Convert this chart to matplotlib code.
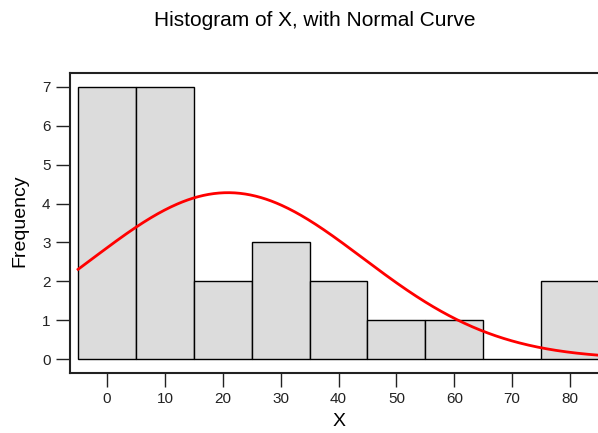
import numpy as np
import matplotlib
matplotlib.use("Agg")
import matplotlib.pyplot as plt

plt.rcParams['font.family'] = ['Liberation Sans', 'DejaVu Sans']

bin_centers = [0, 10, 20, 30, 40, 50, 60, 70, 80]
counts = [7, 7, 2, 3, 2, 1, 1, 0, 2]
bin_width = 10
x_ticks = [0, 10, 20, 30, 40, 50, 60, 70, 80]
y_ticks = [0, 1, 2, 3, 4, 5, 6, 7]
fit_mean = 20.9
fit_sd = 23.3

W, H = 598, 433
fig = plt.figure(figsize=(W / 100, H / 100), dpi=100)
xlim = (-6.4, 86.0)
ylim = (-0.36, 7.36)
px_per_x = (570 - 107) / 80.0
ax_w = (xlim[1] - xlim[0]) * px_per_x
ax = fig.add_axes([70 / W, (H - 373) / H, ax_w / W, 300 / H])

ax.bar(bin_centers, counts, width=bin_width, color='#dcdcdc',
       edgecolor='black', linewidth=1.0, zorder=2)

n = sum(counts)
x_lo = bin_centers[0] - bin_width / 2
x_hi = bin_centers[-1] + bin_width / 2
xs = np.linspace(x_lo, x_hi, 400)
ys = n * bin_width / (fit_sd * np.sqrt(2 * np.pi)) * np.exp(-0.5 * ((xs - fit_mean) / fit_sd) ** 2)
ax.plot(xs, ys, color='#ff0000', linewidth=2.0, zorder=3)

ax.set_xlim(*xlim)
ax.set_ylim(*ylim)
ax.set_xticks(x_ticks)
ax.set_yticks(y_ticks)
ax.tick_params(direction='out', length=10, width=1.0, labelsize=11, colors='#222222', pad=4)
for s in ax.spines.values():
    s.set_linewidth(1.5)
    s.set_color('#222222')

fig.text(315 / W, 1 - 20 / H, 'Histogram of X, with Normal Curve', ha='center', va='center', fontsize=15)
fig.text(20 / W, 1 - 221 / H, 'Frequency', ha='center', va='center', rotation=90, fontsize=14)
fig.text(339 / W, 1 - 421 / H, 'X', ha='center', va='center', fontsize=14)

fig.savefig('out.png', dpi=100)
